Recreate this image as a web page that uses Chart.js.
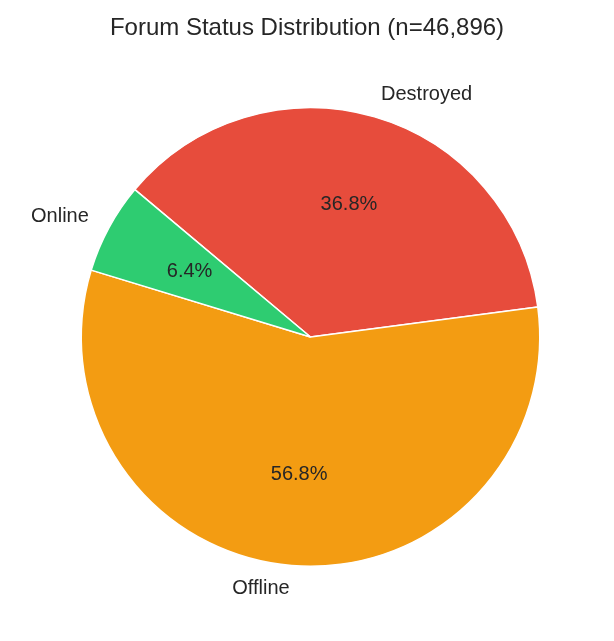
<!DOCTYPE html>
<html>
<head>
<meta charset="utf-8">
<script src="https://cdn.jsdelivr.net/npm/chart.js@4"></script>
<style>
  html, body { margin: 0; padding: 0; background: #fff; }
  #wrap { width: 614px; height: 641px; }
</style>
</head>
<body>
<div id="wrap"><canvas id="pie" width="614" height="641"></canvas></div>
<script>
// categories in clockwise drawing order (matplotlib draws counterclockwise)
var labels = ['Destroyed', 'Offline', 'Online'];
var counts = [17258, 26637, 3001];
var colors = ['#e74c3c', '#f39c12', '#2ecc71'];
var titleText = 'Forum Status Distribution (n=46,896)';

var FONT = '"Liberation Sans", Arial, sans-serif';

var pieLabels = {
    id: 'pieLabels',
    afterDraw: function (chart) {
        var ctx = chart.ctx;
        var total = counts.reduce(function (a, b) { return a + b; }, 0);
        ctx.save();
        ctx.fillStyle = '#262626';
        ctx.font = '24px ' + FONT;
        ctx.textAlign = 'center';
        ctx.textBaseline = 'middle';
        ctx.fillText(titleText, 307, 28);

        var arcs = chart.getDatasetMeta(0).data;
        for (var i = 0; i < arcs.length; i++) {
            var a = arcs[i];
            var mid = (a.startAngle + a.endAngle) / 2;
            var r = a.outerRadius;
            var cx = Math.cos(mid), cy = Math.sin(mid);
            ctx.font = '20px ' + FONT;
            ctx.textBaseline = 'middle';
            ctx.textAlign = 'center';
            var pct = (counts[i] / total * 100).toFixed(1) + '%';
            ctx.fillText(pct, a.x + cx * r * 0.6, a.y + cy * r * 0.6);
            ctx.textAlign = cx >= 0 ? 'left' : 'right';
            ctx.fillText(labels[i], a.x + cx * r * 1.1, a.y + cy * r * 1.1);
        }
        ctx.restore();
    }
};

new Chart(document.getElementById('pie'), {
    type: 'pie',
    data: {
        labels: labels,
        datasets: [{
            data: counts,
            backgroundColor: colors,
            borderColor: '#ffffff',
            borderWidth: 1.5
        }]
    },
    options: {
        responsive: false,
        animation: false,
        rotation: -50,
        layout: { padding: { left: 80, top: 107, right: 73, bottom: 74 } },
        plugins: { legend: { display: false }, tooltip: { enabled: false }, title: { display: false } }
    },
    plugins: [pieLabels]
});
</script>
</body>
</html>
